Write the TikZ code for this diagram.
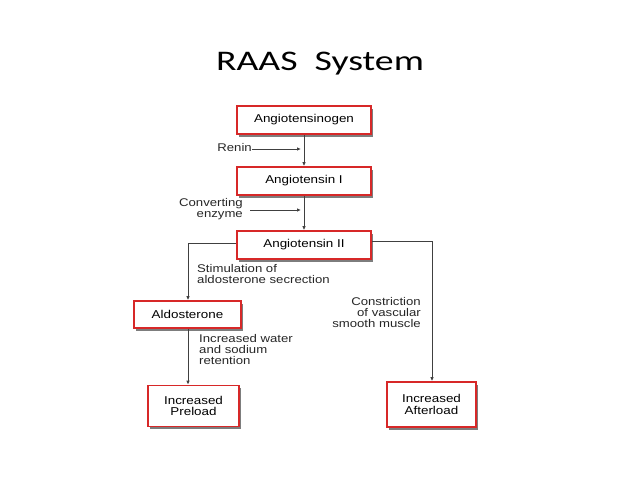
\documentclass[tikz,border=0pt]{standalone}
\usepackage{fontspec}
\newfontfamily\boxfont{Liberation Sans}[FakeStretch=1.18]
\newfontfamily\titlefont{Carlito}[FakeStretch=1.33]
\usetikzlibrary{arrows.meta,shadows}
\definecolor{boxred}{RGB}{215,40,40}
\tikzset{
  x=1bp,y=-1bp,
  flowbox/.style={draw=boxred, line width=1.6pt, fill=white, inner sep=0pt,
    align=center, font=\boxfont\fontsize{11.4}{11.8}\selectfont,
    drop shadow={shadow xshift=2.4bp, shadow yshift=-2.8bp, fill=black!60, opacity=0.85}},
  lbl/.style={inner sep=0pt, font=\boxfont\fontsize{11.2}{11}\selectfont, text=black!85},
  conn/.style={draw=black!75, line width=0.8pt},
  arr/.style={conn, -{Latex[length=4bp,width=3.5bp]}},
}
\begin{document}
\begin{tikzpicture}
\useasboundingbox (0,0) rectangle (638,479);
\node[font=\titlefont\fontsize{28.5}{30}\selectfont, anchor=base] (title) at (320,71) {RAAS\ \ System};

\node[flowbox, minimum width=134bp, minimum height=28bp] (ang) at (304,120) {Angiotensinogen};
\node[flowbox, minimum width=134bp, minimum height=28bp] (ang1) at (304,181) {Angiotensin I};
\node[flowbox, minimum width=134bp, minimum height=28bp] (ang2) at (304,245) {Angiotensin II};
\node[flowbox, minimum width=107bp, minimum height=27bp] (aldo) at (187.5,314.5) {Aldosterone};
\node[flowbox, minimum width=91bp, minimum height=41bp] (pre) at (193.5,406) {Increased\\Preload};
\node[flowbox, minimum width=89bp, minimum height=45bp] (aft) at (431.5,404.5) {Increased\\Afterload};

% enzyme labels
\node[lbl, anchor=east] (renin) at (252,148) {Renin};
\coordinate (reninend) at (301,149);
\node[lbl, anchor=east, align=right] (conv) at (243,209) {Converting\\enzyme};
\coordinate (convstart) at (250,210);
\coordinate (convend) at (301,210);

\draw[arr] (renin.east |- reninend) -- (reninend);
\draw[arr] (convstart) -- (convend);

% main chain
\draw[arr] (ang.south) -- (ang1.north);
\draw[arr] (ang1.south) -- (ang2.north);

% branches
\coordinate (lefttop) at (188,243);
\draw[arr] (ang2.west |- lefttop) -- (lefttop) -- (lefttop |- aldo.north);
\draw[arr] (lefttop |- aldo.south) -- (lefttop |- pre.north);
\coordinate (righttop) at (432,241);
\draw[arr] (ang2.east |- righttop) -- (righttop) -- (righttop |- aft.north);

% effect labels
\node[lbl, anchor=north west, align=left] (stim) at (197,264) {Stimulation of\\aldosterone secrection};
\node[lbl, anchor=north east, align=right] (constr) at (421,297) {Constriction\\of vascular\\smooth muscle};
\node[lbl, anchor=north west, align=left] (water) at (199,334) {Increased water\\and sodium\\retention};
\end{tikzpicture}
\end{document}
